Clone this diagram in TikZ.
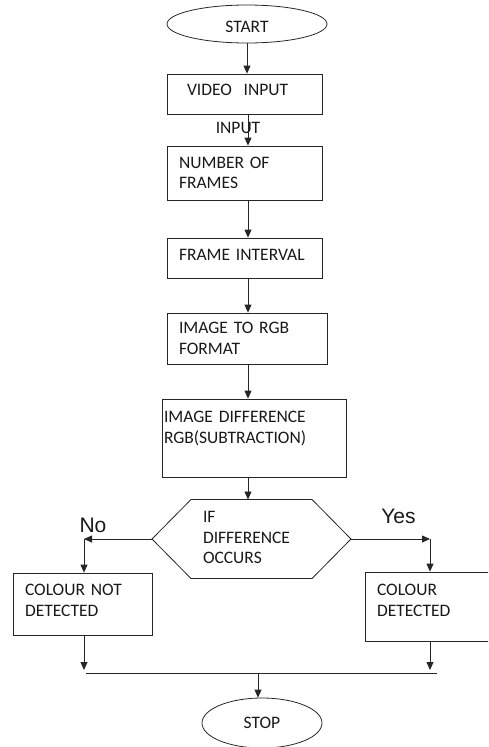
\documentclass[tikz,border=0pt]{standalone}
\usepackage{fontspec}
\setmainfont{Carlito}
\newfontfamily\arialfont{Liberation Sans}
\usetikzlibrary{arrows.meta,shapes.geometric}

\begin{document}
\begin{tikzpicture}[x=1pt,y=-1pt,line width=0.8pt,draw=black!85,text=black!90,font=\fontsize{17.5}{20.5}\selectfont, box/.style={draw,rectangle,align=left,inner xsep=12pt,inner ysep=0pt}, term/.style={draw,ellipse,inner sep=0pt}, tag/.style={font=\arialfont\fontsize{21}{25}\selectfont,inner sep=0pt}, arr/.style={-{Triangle[length=8pt,width=7pt]}}]
\useasboundingbox (0,0) rectangle (488,747); \clip (0,0) rectangle (488,747);
\node (start) [term,minimum width=160pt,minimum height=38pt,text height=17pt] at (247,24) {START};
\node (video) [box,minimum width=155pt,minimum height=40pt,inner xsep=20pt,text width=115pt,text depth=8pt] at (244.5,94) {VIDEO\ \ INPUT};
\node (frames) [box,minimum width=155pt,minimum height=54pt,text width=131pt,text depth=20.5pt] at (244.5,173) {NUMBER OF\\FRAMES};
\node (interval) [box,minimum width=155pt,minimum height=40pt,text width=131pt,text depth=6pt] at (244.5,258) {FRAME INTERVAL};
\node (rgb) [box,minimum width=160pt,minimum height=51pt,text width=136pt,text depth=20.5pt] at (247,338.5) {IMAGE TO RGB\\FORMAT};
\node (diff) [box,minimum width=184pt,minimum height=78pt,inner xsep=2pt,text width=180pt,text depth=41.5pt] at (254,438) {IMAGE DIFFERENCE\\RGB(SUBTRACTION)};
\node (check) [minimum width=199pt,minimum height=79pt,inner xsep=51pt,inner ysep=0pt,outer sep=0pt,text width=97pt,align=left,text depth=44pt] at (251.5,539) {IF\\DIFFERENCE\\OCCURS};
\draw ([xshift=39pt]check.north west) -- ([xshift=-39pt]check.north east) -- (check.east) -- ([xshift=-39pt]check.south east) -- ([xshift=39pt]check.south west) -- (check.west) -- cycle;
\node (nodet) [box,minimum width=139pt,minimum height=62pt,text width=115pt,text depth=27.5pt] at (82.5,604) {COLOUR NOT\\DETECTED};
\node (det) [box,minimum width=137pt,minimum height=69pt,text width=113pt,text depth=32.5pt] at (433.5,606.5) {COLOUR\\DETECTED};
\node (stop) [term,minimum width=120pt,minimum height=50pt] at (262,723) {STOP};
\node (noTag) [tag] at (93,525) {No}; \node (yesTag) [tag] at (398.5,516) {Yes};
\coordinate (spine) at (248,0); \coordinate (noC) at (84,539); \coordinate (yesC) at (430,539);
\coordinate (joinL) at (86,673); \coordinate (joinR) at (437,673); \coordinate (joinM) at (258,673);
\draw[arr] (start.south) -- (start.south |- video.north);
\draw[arr] (video.south -| spine) -- node (inTag) [pos=0.43,xshift=-10pt,inner sep=0pt] {INPUT} (frames.north -| spine);
\draw[arr] (frames.south -| spine) -- (interval.north -| spine);\draw[arr] (interval.south -| spine) -- (rgb.north -| spine);\draw[arr] (rgb.south -| spine) -- (diff.north -| spine);\draw[arr] (diff.south -| spine) -- (check.north -| spine);
\draw[arr] (check.west) -- (noC);\draw[arr] (noC) -- (noC |- nodet.north);\draw[arr] (check.east) -- (yesC);\draw[arr] (yesC) -- (yesC |- det.north);
\draw (joinL) -- (joinR);\draw[arr] (noC |- nodet.south) -- ([yshift=3pt]noC |- joinL);\draw[arr] (yesC |- det.south) -- ([yshift=3pt]yesC |- joinL);\draw[arr] (joinM) -- (joinM |- stop.north);
\end{tikzpicture}
\end{document}
